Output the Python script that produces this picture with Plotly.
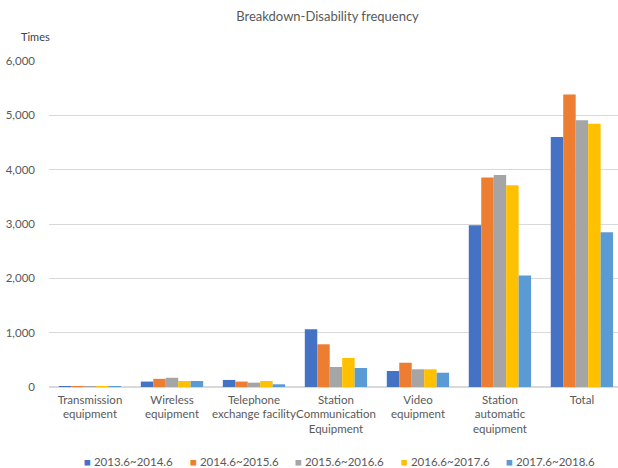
import plotly.graph_objects as go

categories = [
    "Transmission<br>equipment",
    "Wireless<br>equipment",
    "Telephone<br>exchange facility",
    "Station<br>Communication<br>Equipment",
    "Video<br>equipment",
    "Station<br>automatic<br>equipment",
    "Total",
]
periods = ["2013.6~2014.6", "2014.6~2015.6", "2015.6~2016.6", "2016.6~2017.6", "2017.6~2018.6"]

v_2013 = [15, 100, 130, 1063, 295, 2978, 4599]
v_2014 = [15, 150, 100, 786, 447, 3855, 5383]
v_2015 = [15, 170, 80, 368, 326, 3904, 4911]
v_2016 = [15, 110, 110, 534, 326, 3715, 4843]
v_2017 = [15, 110, 50, 350, 263, 2050, 2849]

series = [v_2013, v_2014, v_2015, v_2016, v_2017]
colors = ["#4472C4", "#ED7D31", "#A5A5A5", "#FFC000", "#5B9BD5"]

FONT = "Lato, 'Open Sans', sans-serif"
GRAY = "#595959"

fig = go.Figure()
for name, vals, col in zip(periods, series, colors):
    fig.add_trace(go.Bar(name=name, x=categories, y=vals, showlegend=False,
                         marker=dict(color=col, line=dict(width=0))))

# Legend row: coloured square + period label, evenly spaced under the axis
legend_items = []
for i, (name, col) in enumerate(zip(periods, colors)):
    legend_items.append(dict(
        text=f"<span style='color:{col}'>■</span> {name}",
        xref="paper", yref="paper", x=0.058 + i * 0.1855, y=-0.227,
        xanchor="left", yanchor="middle", showarrow=False,
        font=dict(size=11.5, color=GRAY, family=FONT)))

fig.update_layout(
    width=618, height=468,
    barmode="group", bargap=0.24, bargroupgap=0,
    plot_bgcolor="white", paper_bgcolor="white",
    margin=dict(l=49, r=0, t=61, b=81),
    font=dict(family=FONT, size=11.5, color=GRAY),
    title=dict(text="Breakdown-Disability frequency", x=0.53, xanchor="center",
               y=0.965, yanchor="middle", font=dict(size=13, color=GRAY, family=FONT)),
    showlegend=False,
    xaxis=dict(showline=False, ticks="", tickfont=dict(size=11.5, color=GRAY), tickangle=0,
               range=[-0.5, 6.44], ticklabelstandoff=4, automargin=False),
    yaxis=dict(range=[0, 6000], dtick=1000, tickformat=",", showgrid=True,
               gridcolor="#D9D9D9", gridwidth=1, zeroline=True, zerolinecolor="#D9D9D9",
               ticks="", tickfont=dict(size=11.5, color=GRAY), ticklabelstandoff=13,
               automargin=False),
    annotations=[dict(text="Times", xref="paper", yref="paper", x=-0.053, y=1.075,
                      xanchor="left", yanchor="middle", showarrow=False,
                      font=dict(size=11, color="#404040"))] + legend_items,
)

fig.write_html("out.html")
